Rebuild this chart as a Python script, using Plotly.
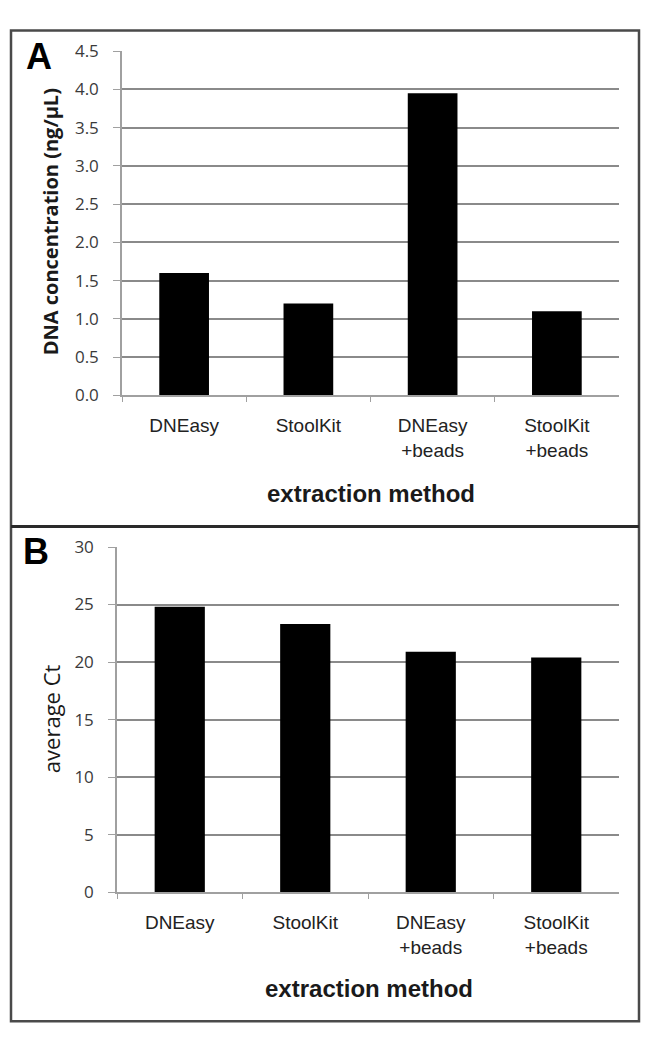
import plotly.graph_objects as go

categories = ["DNEasy", "StoolKit", "DNEasy<br>+beads", "StoolKit<br>+beads"]
dna_conc = [1.6, 1.2, 3.95, 1.1]
avg_ct = [24.8, 23.3, 20.9, 20.4]

W, H = 654, 1049

def py(p):
    return 1 - p / H

def px(p):
    return p / W

fig = go.Figure()
fig.add_trace(go.Bar(x=categories, y=dna_conc, marker=dict(color="black", line=dict(width=0)),
                     xaxis="x", yaxis="y", width=0.4, showlegend=False))
fig.add_trace(go.Bar(x=categories, y=avg_ct, marker=dict(color="black", line=dict(width=0)),
                     xaxis="x2", yaxis="y2", width=0.4, showlegend=False))

grid_col = "#8a8a8a"
axis_col = "#a0a0a0"
tick_font = dict(family="Open Sans, Lato, sans-serif", size=17, color="#3a3a3a")
cat_font = dict(family="Liberation Sans, Arial, sans-serif", size=19, color="#222222")

common_x = dict(showline=True, linecolor=axis_col, linewidth=1.5,
                ticks="outside", tickson="boundaries", ticklen=5, tickcolor=axis_col,
                tickfont=cat_font, ticklabelstandoff=12, showgrid=False, fixedrange=True)
common_y = dict(showline=True, linecolor=axis_col, linewidth=1.5, ticks="outside",
                ticklen=7, tickcolor=axis_col, tickfont=tick_font, showgrid=True,
                gridcolor=grid_col, gridwidth=1.5, zeroline=False, ticklabelstandoff=11,
                fixedrange=True)

fig.update_layout(
    width=W, height=H,
    margin=dict(l=0, r=0, t=0, b=0),
    paper_bgcolor="white", plot_bgcolor="white",
    xaxis=dict(anchor="y", domain=[px(122), px(619)], **common_x),
    yaxis=dict(anchor="x", domain=[py(392), py(40)], range=[0, 4.5], dtick=0.5,
               tickformat=".1f", **common_y),
    xaxis2=dict(anchor="y2", domain=[px(117), px(619)], **common_x),
    yaxis2=dict(anchor="x2", domain=[py(900), py(547)], range=[0, 30], dtick=5, **common_y),
    bargap=0.6,
)

border_col = "#4a4a4a"
fig.add_shape(type="rect", xref="paper", yref="paper", x0=px(11), x1=px(639), y0=py(1032), y1=py(19),
              line=dict(color=border_col, width=2.5))
fig.add_shape(type="line", xref="paper", yref="paper", x0=px(11), x1=px(639), y0=py(526), y1=py(526),
              line=dict(color="#2a2a2a", width=3))

anns = [
    dict(text="<b>A</b>", x=px(39), y=py(46), font=dict(family="Liberation Sans, Arial", size=36, color="black")),
    dict(text="<b>B</b>", x=px(36), y=py(552), font=dict(family="Liberation Sans, Arial", size=36, color="black")),
    dict(text="<b>DNA concentration (ng/µL)</b>", x=px(50), y=py(215), textangle=-90,
         font=dict(family="Open Sans, Lato, sans-serif", size=20, color="#1a1a1a")),
    dict(text="average Ct", x=px(51), y=py(723), textangle=-90,
         font=dict(family="Open Sans, Lato, sans-serif", size=22, color="#1a1a1a")),
    dict(text="<b>extraction method</b>", x=px(371), y=py(492),
         font=dict(family="Liberation Sans, Arial", size=24, color="#1a1a1a")),
    dict(text="<b>extraction method</b>", x=px(369), y=py(998),
         font=dict(family="Liberation Sans, Arial", size=24, color="#1a1a1a")),
]
for a in anns:
    fig.add_annotation(xref="paper", yref="paper", showarrow=False, xanchor="center", yanchor="middle", **a)

fig.write_html("out.html", config={"displayModeBar": False},
               post_script="document.body.style.margin='0';document.body.style.overflow='hidden';")
